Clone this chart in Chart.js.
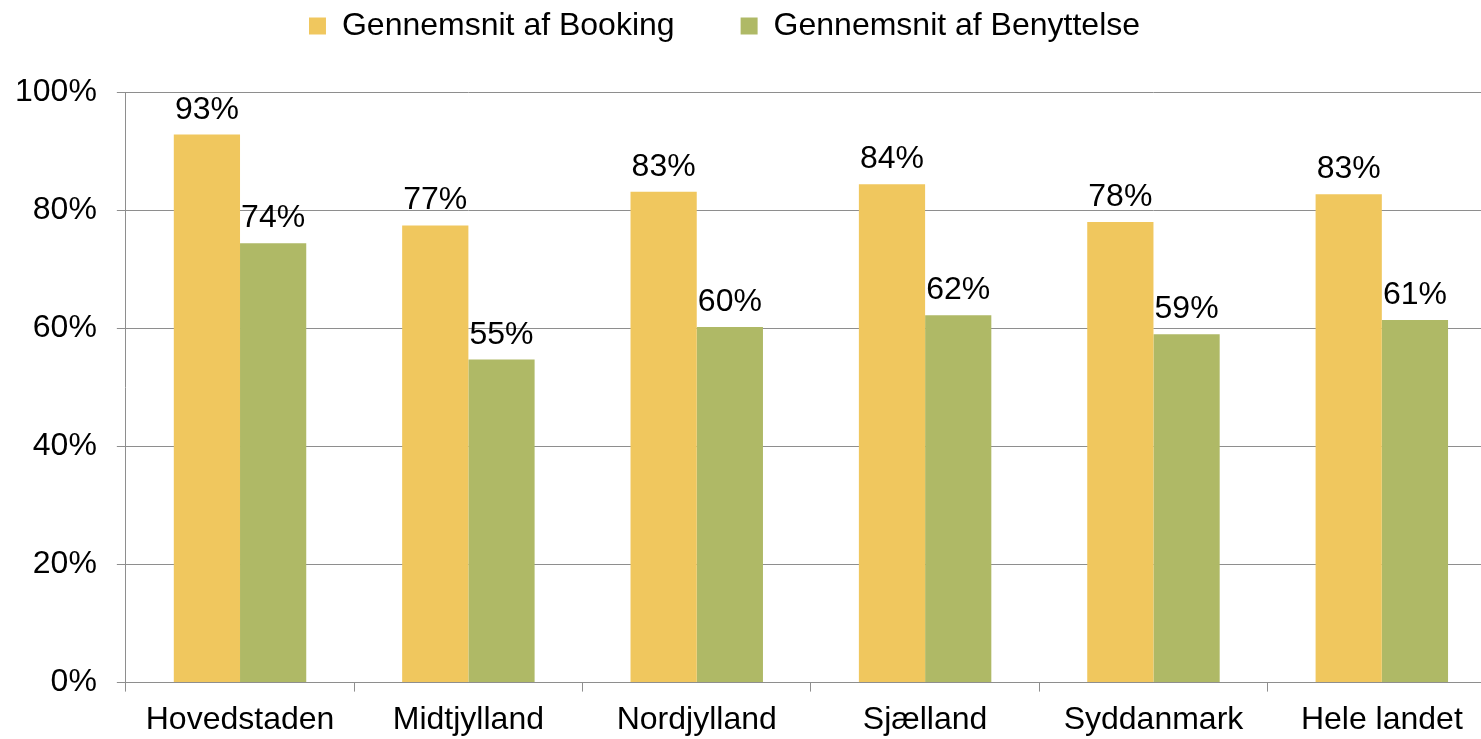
<!DOCTYPE html>
<html>
<head>
<meta charset="utf-8">
<script src="https://cdn.jsdelivr.net/npm/chart.js@4/dist/chart.umd.min.js"></script>
<style>
  html, body { margin: 0; padding: 0; background: #fff; overflow: hidden; }
  #wrap { width: 1500px; height: 739px; position: relative; }
</style>
</head>
<body>
<div id="wrap"><canvas id="chart"></canvas></div>
<script>
// data
const regions = ['Hovedstaden', 'Midtjylland', 'Nordjylland', 'Sjælland', 'Syddanmark', 'Hele landet']
const booking = [92.8, 77.4, 83.1, 84.4, 78.0, 82.7]
const benyttelse = [74.4, 54.7, 60.2, 62.2, 59.0, 61.4]
const yTicks = [0, 20, 40, 60, 80, 100]

const axisGray = '#8e8e8e'
const fontFamily = "'Liberation Sans', Arial, sans-serif"

Chart.defaults.font.family = fontFamily
Chart.defaults.color = '#000'

// value labels above each bar
const barLabels = {
    id: 'barLabels',
    afterDatasetsDraw(chart) {
        const ctx = chart.ctx
        ctx.save()
        ctx.font = '32px ' + fontFamily
        ctx.fillStyle = '#000'
        ctx.textAlign = 'center'
        ctx.textBaseline = 'alphabetic'
        chart.data.datasets.forEach(function (ds, i) {
            chart.getDatasetMeta(i).data.forEach(function (bar, j) {
                ctx.fillText(Math.round(ds.data[j]) + '%', bar.x, bar.y - 16)
            })
        })
        ctx.restore()
    }
}

// move the legend up and a bit left, like the original
const legendShift = {
    id: 'legendShift',
    afterLayout(chart) {
        const lg = chart.legend
        lg.left -= 21
        lg.right -= 21
        lg.top -= 40
        lg.bottom -= 40
    }
}

new Chart(document.getElementById('chart'), {
    type: 'bar',
    data: {
        labels: regions,
        datasets: [
            {
                label: 'Gennemsnit af Booking',
                data: booking,
                backgroundColor: '#F0C75E'
            },
            {
                label: 'Gennemsnit af Benyttelse',
                data: benyttelse,
                backgroundColor: '#AFB966'
            }
        ]
    },
    options: {
        responsive: true,
        maintainAspectRatio: false,
        animation: false,
        datasets: {
            bar: {categoryPercentage: 0.58, barPercentage: 1}
        },
        layout: {
            padding: {left: -5, right: 4, top: -16, bottom: -9}
        },
        plugins: {
            legend: {
                position: 'top',
                labels: {
                    boxWidth: 17,
                    boxHeight: 17,
                    padding: 66,
                    font: {size: 32}
                }
            },
            tooltip: {enabled: false}
        },
        scales: {
            x: {
                grid: {
                    display: true,
                    drawOnChartArea: false,
                    drawTicks: true,
                    tickLength: 9,
                    color: axisGray
                },
                border: {display: true, color: axisGray},
                ticks: {
                    padding: 9,
                    font: {size: 32},
                    maxRotation: 0,
                    autoSkip: false
                }
            },
            y: {
                min: 0,
                max: 100,
                afterBuildTicks(axis) {
                    axis.ticks = yTicks.map(v => ({value: v}))
                },
                grid: {
                    color: axisGray,
                    drawTicks: true,
                    tickLength: 9
                },
                border: {display: true, color: axisGray},
                ticks: {
                    padding: 20,
                    font: {size: 32},
                    callback: v => v + '%'
                }
            }
        }
    },
    plugins: [barLabels, legendShift]
})
</script>
</body>
</html>
